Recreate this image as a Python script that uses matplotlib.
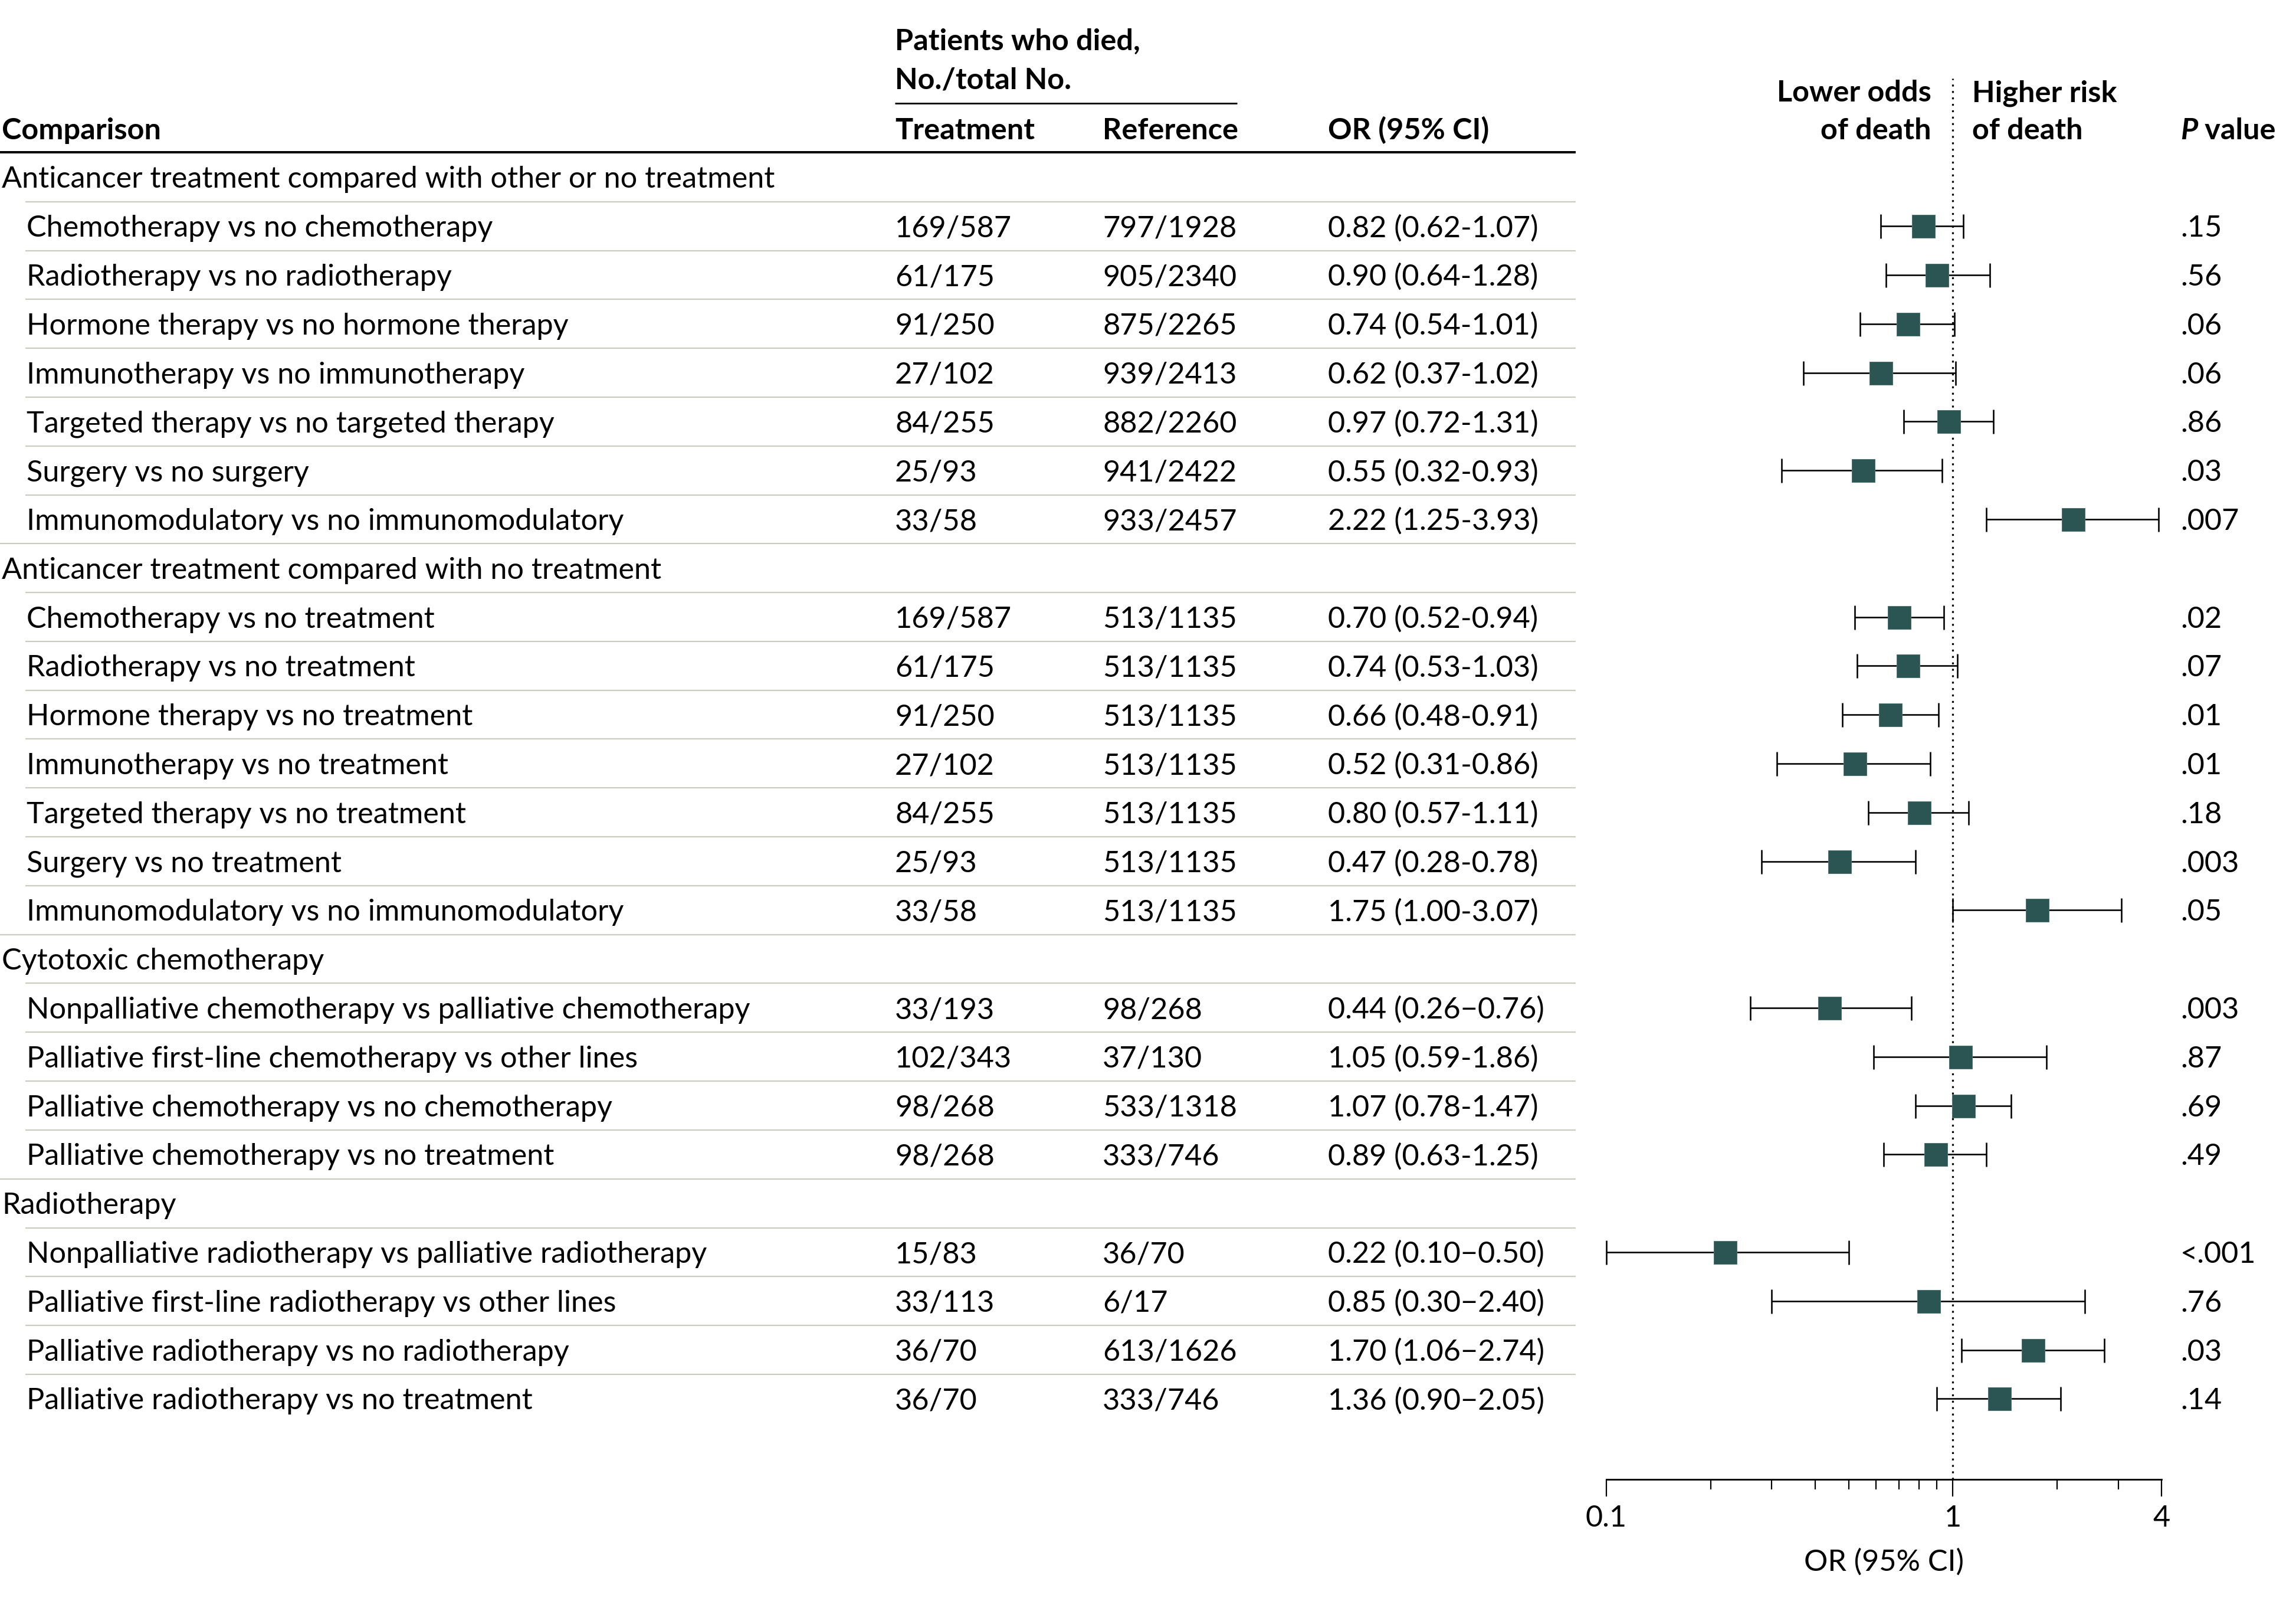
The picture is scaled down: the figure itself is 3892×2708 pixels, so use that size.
import numpy as np
import matplotlib
matplotlib.use("Agg")
import matplotlib.pyplot as plt
from matplotlib import font_manager as fm
from matplotlib.ticker import FixedLocator, NullFormatter, FixedFormatter

# ---------------- data ----------------
section_titles = [
    "Anticancer treatment compared with other or no treatment",
    "Anticancer treatment compared with no treatment",
    "Cytotoxic chemotherapy",
    "Radiotherapy",
]

labels = [
    "Chemotherapy vs no chemotherapy",
    "Radiotherapy vs no radiotherapy",
    "Hormone therapy vs no hormone therapy",
    "Immunotherapy vs no immunotherapy",
    "Targeted therapy vs no targeted therapy",
    "Surgery vs no surgery",
    "Immunomodulatory vs no immunomodulatory",
    "Chemotherapy vs no treatment",
    "Radiotherapy vs no treatment",
    "Hormone therapy vs no treatment",
    "Immunotherapy vs no treatment",
    "Targeted therapy vs no treatment",
    "Surgery vs no treatment",
    "Immunomodulatory vs no immunomodulatory",
    "Nonpalliative chemotherapy vs palliative chemotherapy",
    "Palliative first-line chemotherapy vs other lines",
    "Palliative chemotherapy vs no chemotherapy",
    "Palliative chemotherapy vs no treatment",
    "Nonpalliative radiotherapy vs palliative radiotherapy",
    "Palliative first-line radiotherapy vs other lines",
    "Palliative radiotherapy vs no radiotherapy",
    "Palliative radiotherapy vs no treatment",
]

section_of = [0] * 7 + [1] * 7 + [2] * 4 + [3] * 4

treatment = ["169/587", "61/175", "91/250", "27/102", "84/255", "25/93", "33/58",
             "169/587", "61/175", "91/250", "27/102", "84/255", "25/93", "33/58",
             "33/193", "102/343", "98/268", "98/268",
             "15/83", "33/113", "36/70", "36/70"]

reference = ["797/1928", "905/2340", "875/2265", "939/2413", "882/2260", "941/2422", "933/2457",
             "513/1135", "513/1135", "513/1135", "513/1135", "513/1135", "513/1135", "513/1135",
             "98/268", "37/130", "533/1318", "333/746",
             "36/70", "6/17", "613/1626", "333/746"]

or_est = [0.82, 0.90, 0.74, 0.62, 0.97, 0.55, 2.22,
          0.70, 0.74, 0.66, 0.52, 0.80, 0.47, 1.75,
          0.44, 1.05, 1.07, 0.89,
          0.22, 0.85, 1.70, 1.36]
ci_low = [0.62, 0.64, 0.54, 0.37, 0.72, 0.32, 1.25,
          0.52, 0.53, 0.48, 0.31, 0.57, 0.28, 1.00,
          0.26, 0.59, 0.78, 0.63,
          0.10, 0.30, 1.06, 0.90]
ci_high = [1.07, 1.28, 1.01, 1.02, 1.31, 0.93, 3.93,
           0.94, 1.03, 0.91, 0.86, 1.11, 0.78, 3.07,
           0.76, 1.86, 1.47, 1.25,
           0.50, 2.40, 2.74, 2.05]

or_text = ["0.82 (0.62-1.07)", "0.90 (0.64-1.28)", "0.74 (0.54-1.01)", "0.62 (0.37-1.02)",
           "0.97 (0.72-1.31)", "0.55 (0.32-0.93)", "2.22 (1.25-3.93)",
           "0.70 (0.52-0.94)", "0.74 (0.53-1.03)", "0.66 (0.48-0.91)", "0.52 (0.31-0.86)",
           "0.80 (0.57-1.11)", "0.47 (0.28-0.78)", "1.75 (1.00-3.07)",
           "0.44 (0.26\u22120.76)", "1.05 (0.59-1.86)", "1.07 (0.78-1.47)", "0.89 (0.63-1.25)",
           "0.22 (0.10\u22120.50)", "0.85 (0.30\u22122.40)", "1.70 (1.06\u22122.74)", "1.36 (0.90\u22122.05)"]

p_text = [".15", ".56", ".06", ".06", ".86", ".03", ".007",
          ".02", ".07", ".01", ".01", ".18", ".003", ".05",
          ".003", ".87", ".69", ".49",
          "<.001", ".76", ".03", ".14"]

major_ticks = [0.1, 1, 4]
major_tick_labels = ["0.1", "1", "4"]
minor_ticks = [0.2, 0.3, 0.4, 0.5, 0.6, 0.7, 0.8, 0.9, 2, 3]

# ---------------- style / layout ----------------
W, H, DPI = 3892, 2708, 100
PX = 72.0 / DPI  # points per pixel

names = {f.name for f in fm.fontManager.ttflist}
family = next((f for f in ["Liberation Sans Narrow", "Lato", "Liberation Sans"] if f in names), "DejaVu Sans")
plt.rcParams["font.family"] = [family, "DejaVu Sans"]

MARK = "#2b5553"
SEP = "#c9cdc0"

fig = plt.figure(figsize=(W / DPI, H / DPI), dpi=DPI)
bg = fig.add_axes([0, 0, 1, 1])
bg.set_xlim(0, W)
bg.set_ylim(H, 0)
bg.axis("off")

renderer = fig.canvas.get_renderer()
probe = bg.text(0, 0, "Chemotherapy vs no chemotherapy", fontsize=36)
fs = 36 * 792.0 / probe.get_window_extent(renderer).width
probe.remove()
cap = 0.36 * fs / PX  # half cap height in px

def put(x, y, s, ha="left", weight="normal", style="normal", size=None):
    return bg.text(x, y + cap, s, ha=ha, va="baseline", fontsize=size or fs,
                   fontweight=weight, fontstyle=style)

y0, dy = 300.3, 82.8
X_SEC, X_ROW, X_TR, X_RF, X_OR, X_P = 3, 45, 1517, 1869, 2251, 3696
X_END = 2671

# header
put(X_TR, 67, "Patients who died,", weight="bold")
put(X_TR, 132, "No./total No.", weight="bold")
bg.plot([X_TR, 2097], [175, 175], color="black", lw=2.8 * PX, solid_capstyle="butt")
for x, s in [(X_SEC, "Comparison"), (X_TR, "Treatment"), (X_RF, "Reference"), (X_OR, "OR (95% CI)")]:
    put(x, 218, s, weight="bold")
bg.plot([0, X_END], [258, 258], color="black", lw=4 * PX, solid_capstyle="butt")

put(3274, 154, "Lower odds", ha="right", weight="bold")
put(3274, 218, "of death", ha="right", weight="bold")
put(3343, 154, "Higher risk", weight="bold")
put(3343, 218, "of death", weight="bold")
tp = put(X_P, 218, "P", weight="bold", style="italic")
pw = tp.get_window_extent(renderer).width
put(X_P + pw, 218, " value", weight="bold")

# table rows
row_pos = []
r = 0
for s, title in enumerate(section_titles):
    y = y0 + r * dy
    if r > 0:
        bg.plot([0, X_END], [y - dy / 2, y - dy / 2], color=SEP, lw=2.2 * PX, solid_capstyle="butt")
    put(X_SEC, y, title)
    r += 1
    for i, si in enumerate(section_of):
        if si != s:
            continue
        y = y0 + r * dy
        bg.plot([43, X_END], [y - dy / 2, y - dy / 2], color=SEP, lw=2.2 * PX, solid_capstyle="butt")
        put(X_ROW, y, labels[i])
        put(X_TR, y, treatment[i])
        put(X_RF, y, reference[i])
        put(X_OR, y, or_text[i])
        put(X_P, y, p_text[i])
        row_pos.append(r)
        r += 1
row_pos = np.array(row_pos, dtype=float)

# ---------------- forest plot ----------------
AX_L, AX_R, AX_T, AX_B = 2723, 3664, 133, 2507
ax = fig.add_axes([AX_L / W, 1 - AX_B / H, (AX_R - AX_L) / W, (AX_B - AX_T) / H])
ax.patch.set_alpha(0)
ax.set_xscale("log")
ax.set_xlim(0.1, 4)
ax.set_ylim((AX_B - y0) / dy, (AX_T - y0) / dy)
for sp in ["top", "left", "right"]:
    ax.spines[sp].set_visible(False)
ax.spines["bottom"].set_linewidth(2.8 * PX)
ax.set_yticks([])
ax.xaxis.set_major_locator(FixedLocator(major_ticks))
ax.xaxis.set_major_formatter(FixedFormatter(major_tick_labels))
ax.xaxis.set_minor_locator(FixedLocator(minor_ticks))
ax.xaxis.set_minor_formatter(NullFormatter())
ax.tick_params(axis="x", which="major", length=29 * PX, width=2.2 * PX, labelsize=fs, pad=14 * PX)
ax.tick_params(axis="x", which="minor", length=17 * PX, width=2.2 * PX)

ax.axvline(1, color="black", lw=3.2 * PX, ls=(0, (1, 2.4)), zorder=1)

est = np.array(or_est)
lo = np.array(ci_low)
hi = np.array(ci_high)
ax.errorbar(est, row_pos, xerr=[est - lo, hi - est], fmt="none", ecolor="black",
            elinewidth=2.6 * PX, capsize=20.5 * PX, capthick=2.6 * PX, zorder=2, clip_on=False)
ax.plot(est, row_pos, "s", ms=39 * PX, color=MARK, mec="#4d7573", mew=1 * PX, zorder=3, clip_on=False)

bg.text((AX_L + AX_R) / 2, 2643 + cap, "OR (95% CI)", ha="center", va="baseline", fontsize=fs)

fig.savefig("out.png", dpi=DPI)
